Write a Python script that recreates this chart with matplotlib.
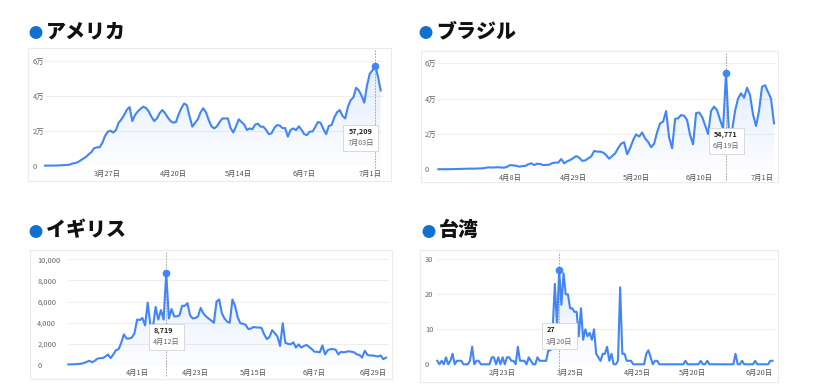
import numpy as np
import pandas as pd
import matplotlib
matplotlib.use('Agg')
import matplotlib.pyplot as plt
from matplotlib.patches import Rectangle, Ellipse, Polygon
from matplotlib.colors import to_rgb

plt.rcParams['font.family'] = ['Noto Sans CJK JP', 'DejaVu Sans']

W, H = 814, 391
LINE = '#4285f4'
BULLET = '#1271cf'

# ---- data (daily new cases) ----
usa_title = 'アメリカ'
usa_start = '2020-03-04'
usa_cases = [30, 40, 60, 80, 100, 150, 250, 350, 450, 600,
             1200, 1500, 2000, 3000, 4000, 5000, 6500, 7800, 10000, 10500,
             10500, 13000, 17000, 19400, 20000, 18900, 20400, 24600, 26500, 29000,
             32000, 33500, 25500, 29000, 31000, 32500, 33700, 33000, 31000, 28000,
             25500, 27000, 30000, 31800, 30000, 27500, 25500, 24600, 25000, 29500,
             33000, 35600, 34500, 28000, 22300, 24500, 26500, 30500, 32800, 30500,
             26000, 22500, 21300, 22500, 25000, 27000, 27000, 27000, 21500, 19000,
             22500, 26500, 25000, 23500, 20400, 21300, 20800, 23500, 24000, 22300,
             22300, 20500, 18000, 18500, 21500, 23200, 23000, 21500, 21500, 16600,
             20500, 21300, 20300, 22500, 20500, 18000, 17500, 19500, 19500, 22000,
             25000, 24500, 21000, 18000, 22700, 23200, 27500, 30500, 31800, 28500,
             27000, 33700, 37500, 39000, 44500, 43000, 40000, 36000, 46000, 52500,
             54500, 57209, 51000, 43000]
usa_ticks = ['2020-03-27', '2020-04-20', '2020-05-14', '2020-06-07', '2020-07-01']
usa_yticks = [0, 20000, 40000, 60000]
usa_ylabels = ['0', '2万', '4万', '6万']

brazil_title = 'ブラジル'
brazil_start = '2020-03-15'
brazil_cases = [30, 40, 50, 60, 80, 100, 150, 200, 250, 300,
                350, 400, 350, 450, 500, 600, 900, 1100, 1000, 1100,
                1200, 1000, 900, 1500, 2400, 2200, 2000, 1500, 1800, 1900,
                2800, 3400, 2400, 3200, 3000, 2400, 2500, 2600, 3500, 3800,
                3800, 5800, 3400, 4500, 5300, 6300, 7500, 6600, 4800, 5000,
                6200, 7200, 10400, 10000, 10000, 9500, 8000, 6000, 7500, 9000,
                12000, 14500, 15300, 8500, 12000, 16500, 19800, 18500, 20800, 17500,
                15500, 12500, 14500, 21000, 26000, 27000, 33000, 18000, 11900, 28500,
                28900, 30700, 30300, 27900, 19400, 14100, 31700, 32200, 29700, 25000,
                20000, 33000, 35500, 33500, 28000, 23000, 54771, 19000, 22000, 33000,
                40000, 43000, 40500, 46200, 42000, 31000, 24500, 33000, 46700, 47600,
                43800, 40000, 26000]
brazil_ticks = ['2020-04-08', '2020-04-29', '2020-05-20', '2020-06-10', '2020-07-01']
brazil_yticks = [0, 20000, 40000, 60000]
brazil_ylabels = ['0', '2万', '4万', '6万']

uk_title = 'イギリス'
uk_start = '2020-03-06'
uk_cases = [50, 60, 70, 80, 100, 130, 200, 300, 400, 250,
            400, 600, 650, 650, 800, 1000, 650, 1000, 1400, 1500,
            2100, 2900, 2500, 2500, 2600, 3000, 4300, 4250, 4450, 3750,
            5900, 3800, 3650, 5500, 4300, 5200, 4300, 8719, 4400, 5300,
            4600, 4600, 4700, 5600, 5600, 5850, 4700, 4400, 4450, 4600,
            5400, 4900, 4600, 4400, 4200, 4000, 6000, 6200, 4900, 4400,
            4100, 4000, 6200, 5600, 4500, 3950, 3900, 3800, 3400, 3450,
            3600, 3550, 3550, 3500, 2900, 2450, 2650, 3300, 3000, 2700,
            1800, 3950, 2100, 2000, 1950, 2150, 1650, 1950, 1650, 1800,
            1900, 1700, 1500, 1250, 1250, 1200, 1850, 1000, 1400, 1500,
            1500, 1450, 1000, 1250, 1200, 1250, 1300, 1250, 1200, 1000,
            950, 700, 1350, 950, 900, 900, 850, 800, 900, 550,
            700]
uk_ticks = ['2020-04-01', '2020-04-23', '2020-05-15', '2020-06-07', '2020-06-29']
uk_yticks = [0, 2000, 4000, 6000, 8000, 10000]
uk_ylabels = ['0', '2,000', '4,000', '6,000', '8,000', '10,000']

taiwan_title = '台湾'
taiwan_start = '2020-01-24'
taiwan_cases = [1, 0, 1, 0, 2, 0, 1, 3, 0, 1,
                1, 1, 0, 0, 0, 1, 5, 0, 1, 1,
                0, 0, 0, 0, 0, 2, 2, 0, 2, 0,
                2, 0, 2, 2, 1, 1, 0, 5, 1, 1,
                1, 0, 2, 1, 0, 0, 2, 1, 1, 1,
                1, 4, 4, 10, 23, 11, 27, 17, 26, 20,
                20, 16, 16, 15, 15, 8, 16, 7, 10, 8,
                9, 7, 10, 3, 2, 1, 3, 3, 5, 1,
                3, 0, 0, 1, 22, 3, 3, 1, 1, 1,
                0, 0, 0, 0, 0, 0, 3, 4, 2, 0,
                1, 1, 0, 0, 0, 0, 0, 0, 0, 0,
                0, 0, 0, 0, 1, 0, 0, 0, 0, 0,
                0, 1, 0, 0, 1, 0, 0, 0, 0, 0,
                0, 0, 0, 0, 0, 0, 0, 3, 0, 0,
                1, 0, 0, 0, 0, 0, 1, 0, 0, 0,
                0, 0, 0, 1, 1]
taiwan_ticks = ['2020-02-23', '2020-03-25', '2020-04-25', '2020-05-20', '2020-06-20']
taiwan_yticks = [0, 10, 20, 30]
taiwan_ylabels = ['0', '10', '20', '30']


def fx(x):
    return x / W


def fy(y):
    return 1 - y / H


def md(d, pad=False):
    return f"{d.month}月{d.day:02d}日" if pad else f"{d.month}月{d.day}日"


def panel(fig, title, title_xy, card, ax_px, start, cases, yticks, ylabels, tick_dates, ylab_pad):
    # card background
    l, t, r, b = card
    fig.patches.append(Rectangle((fx(l), fy(b)), (r - l) / W, (b - t) / H, transform=fig.transFigure,
                                 facecolor='white', edgecolor='#ebebeb', lw=0.8, zorder=-1))
    # title with bullet
    tx, ty = title_xy
    fig.patches.append(Ellipse((fx(tx - 10), fy(ty + 1.5)), 11.5 / W, 11.5 / H,
                               transform=fig.transFigure, color=BULLET, zorder=1))
    fig.text(fx(tx), fy(ty), title, fontsize=14.4, fontweight='heavy', ha='left', va='center', color='#111111')

    al, at, ar, ab = ax_px
    ax = fig.add_axes([fx(al), fy(ab), (ar - al) / W, (ab - at) / H])
    ax.set_facecolor('none')
    n = len(cases)
    x = np.arange(n)
    y = np.array(cases, dtype=float)
    ymax = yticks[-1]

    for yt in yticks:
        ax.axhline(yt, color='#eeeeee', lw=0.8, zorder=0)

    # gradient fill under the line
    verts = [(0, 0)] + list(zip(x, y)) + [(n - 1, 0)]
    clip = Polygon(verts, closed=True, facecolor='none', edgecolor='none')
    ax.add_patch(clip)
    grad = np.zeros((100, 1, 4))
    grad[:, 0, :3] = to_rgb(LINE)
    grad[:, 0, 3] = np.linspace(0.15, 0.02, 100)
    im = ax.imshow(grad, extent=[0, n - 1, 0, y.max()], aspect='auto', origin='upper', zorder=1)
    im.set_clip_path(clip)

    ax.plot(x, y, color=LINE, lw=1.5, zorder=3, clip_on=False, solid_joinstyle='round')

    ax.set_xlim(0, n)
    ax.set_ylim(0, ymax)
    for s in ax.spines.values():
        s.set_visible(False)

    t0 = pd.Timestamp(start)
    pos = [(pd.Timestamp(d) - t0).days for d in tick_dates]
    ax.set_xticks(pos, [md(pd.Timestamp(d)) for d in tick_dates], fontsize=5.3, color='#555555')
    ax.set_yticks(yticks, ylabels, fontsize=5.4, color='#666666')
    for lab in ax.get_yticklabels():
        lab.set_horizontalalignment('left')
    ax.tick_params(axis='x', length=0, pad=3.2)
    ax.tick_params(axis='y', length=0, pad=ylab_pad * 0.72)

    # highlighted maximum
    k = int(np.argmax(y))
    ax_h = ab - at
    ax.axvline(k, ymin=-11 / ax_h, ymax=1 + (at - t - 2) / ax_h, color='#999999', lw=0.6,
               ls=(0, (2, 1.5)), clip_on=False, zorder=2)
    ax.plot(k, y[k], 'o', color=LINE, ms=4.5, zorder=5, clip_on=False)

    # tooltip
    px = al + k / n * (ar - al)
    bw, bh = 35, 26
    bl = px - bw / 2
    if bl + bw > ar - 5:
        bl = ar - 5 - bw
    bt = at + 0.61 * ax_h
    fig.patches.append(Rectangle((fx(bl), fy(bt + bh)), bw / W, bh / H, transform=fig.transFigure,
                                 facecolor='white', edgecolor='#d4d4d4', lw=0.6, zorder=10))
    d = t0 + pd.Timedelta(days=k)
    fig.text(fx(bl + 5), fy(bt + 6.5), f"{int(y[k]):,}", fontsize=5.2, fontweight='bold',
             color='#222222', ha='left', va='center', zorder=11)
    fig.text(fx(bl + 4), fy(bt + 18.5), md(d, pad=True), fontsize=5.2,
             color='#666666', ha='left', va='center', zorder=11)
    return ax


fig = plt.figure(figsize=(W / 100, H / 100), dpi=100)

panel(fig, usa_title, (46, 31), (28, 48, 391, 181), (45, 60.7, 383.4, 165.7),
      usa_start, usa_cases, usa_yticks, usa_ylabels, usa_ticks, 12)
panel(fig, brazil_title, (436, 31), (421, 51, 778, 182), (438.3, 63.3, 777, 169.3),
      brazil_start, brazil_cases, brazil_yticks, brazil_ylabels, brazil_ticks, 13.3)
panel(fig, uk_title, (46, 230), (30, 250, 392, 379), (68.3, 259.3, 388.6, 365),
      uk_start, uk_cases, uk_yticks, uk_ylabels, uk_ticks, 31)
panel(fig, taiwan_title, (439, 230), (420, 250, 778, 382), (437.3, 259.3, 774.7, 364.3),
      taiwan_start, taiwan_cases, taiwan_yticks, taiwan_ylabels, taiwan_ticks, 12.3)

fig.savefig('out.png', dpi=100, facecolor='white')
